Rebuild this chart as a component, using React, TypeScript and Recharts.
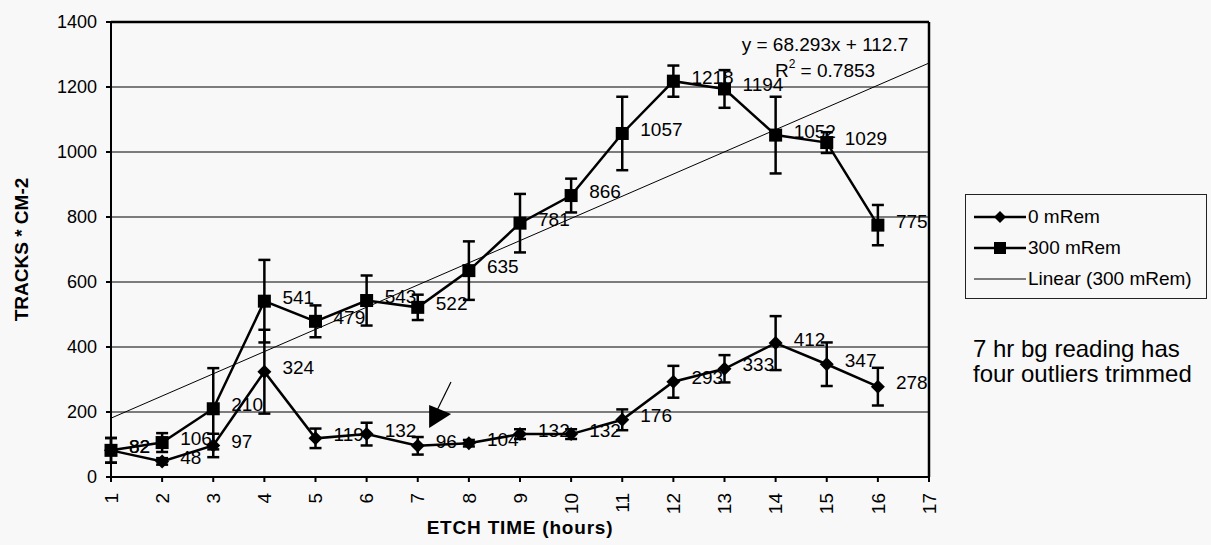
import {
  LineChart,
  Line,
  XAxis,
  YAxis,
  CartesianGrid,
  ErrorBar,
  LabelList,
  ReferenceLine,
  ReferenceDot,
  Legend,
} from 'recharts'

const etchHours = [1, 2, 3, 4, 5, 6, 7, 8, 9, 10, 11, 12, 13, 14, 15, 16]
const zeroRem = [82, 48, 97, 324, 119, 132, 96, 104, 132, 132, 176, 293, 333, 412, 347, 278]
const zeroRemErr = [38, 10, 36, 129, 30, 35, 27, 10, 15, 15, 32, 49, 42, 83, 67, 58]
const rem300 = [82, 106, 210, 541, 479, 543, 522, 635, 781, 866, 1057, 1218, 1194, 1052, 1029, 775]
const rem300Err = [38, 29, 125, 127, 49, 77, 39, 90, 90, 52, 113, 48, 58, 118, 32, 62]

const xTicks = [1, 2, 3, 4, 5, 6, 7, 8, 9, 10, 11, 12, 13, 14, 15, 16, 17]
const yTicks = [0, 200, 400, 600, 800, 1000, 1200, 1400]

// Excel linear trendline on the 300 mRem series
const trendSlope = 68.293
const trendIntercept = 112.7
const trendFrom = 1
const trendTo = 17

// hand-drawn arrow pointing at the 7 hr bg reading
const arrowTail = { x: 7.65, y: 292 }
const arrowTip = { x: 7.38, y: 206 }
const arrowHead = { x: 7.36, y: 188 }

const data = etchHours.map((hour, i) => ({
  hour,
  zero: zeroRem[i],
  zeroErr: zeroRemErr[i],
  r300: rem300[i],
  r300Err: rem300Err[i],
}))

const FONT = '"Liberation Sans", Arial, sans-serif'

const DiamondDot = (props: any) => {
  const { cx, cy } = props
  if (cx == null || cy == null) return null
  return <path d={`M${cx},${cy - 7}L${cx + 7},${cy}L${cx},${cy + 7}L${cx - 7},${cy}Z`} fill="#000" />
}

const SquareDot = (props: any) => {
  const { cx, cy } = props
  if (cx == null || cy == null) return null
  return <rect x={cx - 6.5} y={cy - 6.5} width={13} height={13} fill="#000" />
}

const PointLabel = (props: any) => {
  const { x, y, value } = props
  return (
    <text x={x + 18} y={y - 4} dominantBaseline="central" fontSize={19} fill="#000" fontFamily={FONT}>
      {value}
    </text>
  )
}

const RotatedTick = (props: any) => {
  const { x, y, payload } = props
  return (
    <g transform={`translate(${x},${y})`}>
      <text transform="rotate(-90)" x={-9} y={0} dy="0.35em" textAnchor="end" fontSize={19} fill="#000" fontFamily={FONT}>
        {payload.value}
      </text>
    </g>
  )
}

const ArrowHead = (props: any) => {
  const { cx, cy } = props
  return <path d={`M${cx - 7},${cy - 11}L${cx + 15},${cy - 2}L${cx - 7},${cy + 12}Z`} fill="#000" />
}

const LegendBox = () => (
  <div
    style={{
      border: '1px solid #222',
      padding: '6px 0 6px 8px',
      fontFamily: FONT,
      fontSize: 19,
      color: '#000',
      background: '#f8f8f8',
      boxSizing: 'border-box',
      height: 105,
      whiteSpace: 'nowrap',
    }}
  >
    {[
      { label: '0 mRem', mark: 'diamond' },
      { label: '300 mRem', mark: 'square' },
      { label: 'Linear (300 mRem)', mark: 'none' },
    ].map((item) => (
      <div key={item.label} style={{ display: 'flex', alignItems: 'center', height: 31 }}>
        <svg width={52} height={16} style={{ marginRight: 2 }}>
          <line x1={0} x2={52} y1={8} y2={8} stroke="#000" strokeWidth={item.mark === 'none' ? 1 : 2.5} />
          {item.mark === 'diamond' && <path d="M26,2L32,8L26,14L20,8Z" fill="#000" />}
          {item.mark === 'square' && <rect x={20} y={2} width={12} height={12} fill="#000" />}
        </svg>
        <span>{item.label}</span>
      </div>
    ))}
  </div>
)

export default function App() {
  return (
    <div
      style={{
        position: 'absolute',
        left: 0,
        top: 0,
        width: 1211,
        height: 545,
        overflow: 'hidden',
        background: '#f8f8f8',
        fontFamily: FONT,
      }}
    >
      <LineChart
        width={1211}
        height={545}
        data={data}
        margin={{ top: 22, right: 282, left: 5, bottom: 8 }}
      >
        <CartesianGrid horizontal vertical={false} stroke="#000" strokeWidth={1.2} />
        <XAxis
          dataKey="hour"
          type="number"
          domain={[1, 17]}
          ticks={xTicks}
          interval={0}
          height={60}
          tickSize={5}
          tickMargin={2}
          stroke="#000"
          strokeWidth={2}
          tick={<RotatedTick />}
          label={{
            value: 'ETCH TIME (hours)',
            position: 'insideBottom',
            offset: 3,
            style: { fontSize: 19, fontWeight: 'bold', fill: '#000', fontFamily: FONT, letterSpacing: 0.8 },
          }}
        />
        <YAxis
          type="number"
          domain={[0, 1400]}
          ticks={yTicks}
          width={106}
          tickSize={5}
          tickMargin={9}
          stroke="#000"
          strokeWidth={2}
          tick={{ fontSize: 18, fill: '#000', fontFamily: FONT }}
          label={{
            value: 'TRACKS * CM-2',
            angle: -90,
            position: 'insideLeft',
            offset: 16,
            style: { textAnchor: 'middle', fontSize: 19, fontWeight: 'bold', fill: '#000', fontFamily: FONT },
          }}
        />
        <ReferenceLine y={1400} stroke="#000" strokeWidth={2.5} />
        <ReferenceLine x={17} stroke="#000" strokeWidth={2.5} />
        <ReferenceLine
          segment={[
            { x: trendFrom, y: trendSlope * trendFrom + trendIntercept },
            { x: trendTo, y: trendSlope * trendTo + trendIntercept },
          ]}
          stroke="#000"
          strokeWidth={1}
        />
        <ReferenceLine segment={[arrowTail, arrowTip]} stroke="#000" strokeWidth={1.2} />
        <ReferenceDot x={arrowHead.x} y={arrowHead.y} r={10} shape={<ArrowHead />} />
        <Legend
          layout="horizontal"
          verticalAlign="middle"
          align="center"
          wrapperStyle={{ left: 965, top: 194, width: 242, height: 105 }}
          content={() => <LegendBox />}
        />
        <Line
          type="linear"
          dataKey="zero"
          name="0 mRem"
          stroke="#000"
          strokeWidth={2.5}
          dot={<DiamondDot />}
          activeDot={false}
          isAnimationActive={false}
        >
          <ErrorBar dataKey="zeroErr" width={6} strokeWidth={2.5} stroke="#000" direction="y" />
          <LabelList dataKey="zero" content={<PointLabel />} />
        </Line>
        <Line
          type="linear"
          dataKey="r300"
          name="300 mRem"
          stroke="#000"
          strokeWidth={2.5}
          dot={<SquareDot />}
          activeDot={false}
          isAnimationActive={false}
        >
          <ErrorBar dataKey="r300Err" width={6} strokeWidth={2.5} stroke="#000" direction="y" />
          <LabelList dataKey="r300" content={<PointLabel />} />
        </Line>
      </LineChart>

      <div style={{ position: 'absolute', left: 735, top: 32, width: 180, textAlign: 'center', fontSize: 19, lineHeight: '26px', color: '#000' }}>
        <div>y = 68.293x + 112.7</div>
        <div>
          R<sup style={{ fontSize: 12, verticalAlign: 'top', lineHeight: '12px' }}>2</sup> = 0.7853
        </div>
      </div>

      <div style={{ position: 'absolute', left: 973, top: 336, width: 236, fontSize: 24, lineHeight: '25px', color: '#000', whiteSpace: 'nowrap' }}>
        <div>7 hr bg reading has</div>
        <div>four outliers trimmed</div>
      </div>
    </div>
  )
}
